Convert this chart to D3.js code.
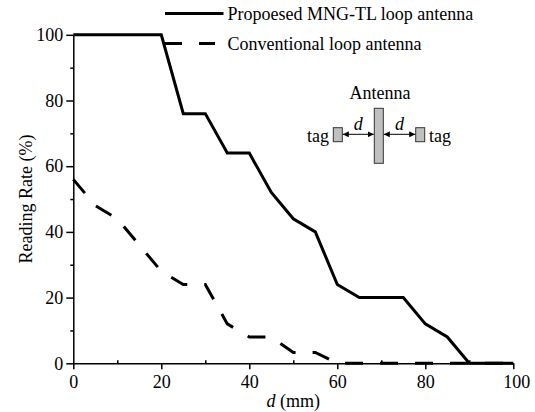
<!DOCTYPE html>
<html>
<head>
<meta charset="utf-8">
<script src="https://cdn.jsdelivr.net/npm/d3@7"></script>
<style>
  body { margin: 0; background: #fff; }
  text { font-family: "Liberation Serif", "Times New Roman", serif; }
</style>
</head>
<body>
<div id="container"></div>
<script>
// distance d (mm) and reading rate (%) for both antennas
const dist = [0, 5, 10, 15, 20, 25, 30, 35, 40, 45, 50, 55, 60, 65, 70, 75, 80, 85, 90, 95, 100];
const proposed = [100, 100, 100, 100, 100, 76, 76, 64, 64, 52, 44, 40, 24, 20, 20, 20, 12, 8, 0, 0, 0];
const conventional = [56, 48, 44, 36, 28, 24, 24, 12, 8, 8, 3.3, 3.3, 0, 0, 0, 0, 0, 0, 0, 0, 0];
const seriesNames = ["Propoesed MNG-TL loop antenna", "Conventional loop antenna"];
const majorTicks = [0, 20, 40, 60, 80, 100];
const minorTicks = [10, 30, 50, 70, 90];

const width = 535, height = 412;
const fs = 18;

const svg = d3.create("svg")
    .attr("width", width)
    .attr("height", height)
    .attr("font-family", "Liberation Serif");

const x = d3.scaleLinear().domain([0, 100]).range([73.3, 513.3]);
const y = d3.scaleLinear().domain([0, 100]).range([363.3, 34.8]);

// axes
const xAxis = svg.append("g")
    .attr("transform", `translate(0,${y(0)})`)
    .call(d3.axisBottom(x).tickValues(majorTicks).tickSize(6).tickSizeOuter(0).tickPadding(6));
const xMinor = svg.append("g")
    .attr("transform", `translate(0,${y(0)})`)
    .call(d3.axisTop(x).tickValues(minorTicks).tickSize(3).tickSizeOuter(0).tickFormat(""));
const yAxis = svg.append("g")
    .attr("transform", `translate(${x(0)},0)`)
    .call(d3.axisLeft(y).tickValues(majorTicks).tickSize(7).tickSizeOuter(0).tickPadding(3));
const yMinor = svg.append("g")
    .attr("transform", `translate(${x(0)},0)`)
    .call(d3.axisLeft(y).tickValues(minorTicks).tickSize(3).tickSizeOuter(0).tickFormat(""));

[xAxis, xMinor, yAxis, yMinor].forEach(g => {
  g.attr("font-family", null).attr("font-size", null);
  g.selectAll("path, line").attr("stroke", "#000").attr("stroke-width", 1.5);
  g.selectAll("text").attr("font-size", fs).attr("fill", "#000");
});
xMinor.select(".domain").remove();
yMinor.select(".domain").remove();
// last label sits a little to the right in the original
xAxis.selectAll(".tick text").filter(d => d === 100).attr("dx", 3);

// axis titles
const xt = svg.append("text")
    .attr("x", (x(0) + x(100)) / 2)
    .attr("y", 407)
    .attr("text-anchor", "middle")
    .attr("font-size", fs);
xt.append("tspan").attr("font-style", "italic").text("d");
xt.append("tspan").text(" (mm)");

svg.append("text")
    .attr("transform", `translate(32,${(y(0) + y(100)) / 2}) rotate(-90)`)
    .attr("text-anchor", "middle")
    .attr("font-size", fs)
    .text("Reading Rate (%)");

// curves
const line = d3.line()
    .x((d, i) => x(dist[i]))
    .y(d => y(d));

svg.append("path")
    .datum(conventional)
    .attr("d", line)
    .attr("fill", "none")
    .attr("stroke", "#000")
    .attr("stroke-width", 3)
    .attr("stroke-dasharray", "18,17");

svg.append("path")
    .datum(proposed)
    .attr("d", line)
    .attr("fill", "none")
    .attr("stroke", "#000")
    .attr("stroke-width", 3)
    .attr("stroke-linejoin", "miter");

// legend
const legend = svg.append("g");
legend.append("line")
    .attr("x1", 165).attr("x2", 223.5).attr("y1", 13.5).attr("y2", 13.5)
    .attr("stroke", "#000").attr("stroke-width", 3);
legend.append("line")
    .attr("x1", 165).attr("x2", 215).attr("y1", 43.5).attr("y2", 43.5)
    .attr("stroke", "#000").attr("stroke-width", 3)
    .attr("stroke-dasharray", "17,17,16");
legend.selectAll("text.leg").data(seriesNames).enter().append("text")
    .attr("class", "leg")
    .attr("x", 227.5)
    .attr("y", (d, i) => 19.5 + i * 30)
    .attr("font-size", fs)
    .text(d => d);

// inset sketch
const inset = svg.append("g");
svg.append("defs").append("marker")
    .attr("id", "arr")
    .attr("viewBox", "0 0 10 10")
    .attr("refX", 10).attr("refY", 5)
    .attr("markerWidth", 6).attr("markerHeight", 6)
    .attr("markerUnits", "userSpaceOnUse")
    .attr("orient", "auto-start-reverse")
  .append("path")
    .attr("d", "M0,0L10,5L0,10z")
    .attr("fill", "#000");

inset.append("text")
    .attr("x", 380).attr("y", 98.5)
    .attr("text-anchor", "middle")
    .attr("font-size", fs)
    .text("Antenna");

const rects = [
  { x: 374.3, y: 108.3, w: 9, h: 55 },
  { x: 333.3, y: 127.7, w: 9, h: 14 },
  { x: 415.7, y: 127.7, w: 9, h: 14 }
];
inset.selectAll("rect").data(rects).enter().append("rect")
    .attr("x", d => d.x).attr("y", d => d.y)
    .attr("width", d => d.w).attr("height", d => d.h)
    .attr("fill", "#c0c0c0")
    .attr("stroke", "#333")
    .attr("stroke-width", 1);

const arrows = [[342.8, 373.8], [383.8, 415.2]];
arrows.forEach(([a, b]) => {
  inset.append("line")
      .attr("x1", a).attr("x2", b).attr("y1", 134.3).attr("y2", 134.3)
      .attr("stroke", "#000").attr("stroke-width", 1)
      .attr("marker-start", "url(#arr)")
      .attr("marker-end", "url(#arr)");
  inset.append("text")
      .attr("x", (a + b) / 2).attr("y", 130)
      .attr("text-anchor", "middle")
      .attr("font-size", fs)
      .attr("font-style", "italic")
      .text("d");
});

inset.append("text")
    .attr("x", 329).attr("y", 142)
    .attr("text-anchor", "end")
    .attr("font-size", fs)
    .text("tag");
inset.append("text")
    .attr("x", 429).attr("y", 142)
    .attr("font-size", fs)
    .text("tag");

document.getElementById("container").append(svg.node());
</script>
</body>
</html>
